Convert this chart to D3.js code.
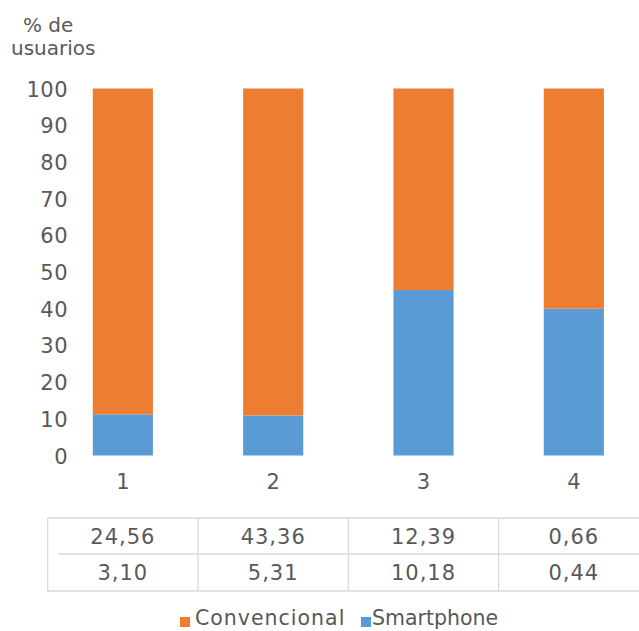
<!DOCTYPE html>
<html><head><meta charset="utf-8">
<script src="https://cdn.jsdelivr.net/npm/d3@7"></script>
<style>body{margin:0;background:#fff}svg{display:block}text{font-family:"DejaVu Sans",Verdana,sans-serif;fill:#595959}</style>
</head><body>
<svg id="c" width="639" height="631"></svg>
<script>
const categories = ["1","2","3","4"];
const convencional = [24.56, 43.36, 12.39, 0.66];
const smartphone = [3.10, 5.31, 10.18, 0.44];
const convLabels = ["24,56","43,36","12,39","0,66"];
const smartLabels = ["3,10","5,31","10,18","0,44"];
const yTicks = [0,10,20,30,40,50,60,70,80,90,100];
const seriesNames = ["Convencional","Smartphone"];
const colors = {Convencional:"#ED7D31", Smartphone:"#5B9BD5"};

const svg = d3.select("#c");
const x = d3.scaleBand().domain(categories).range([47.7, 649]).paddingInner(0.6).paddingOuter(0.3);
const y = d3.scaleLinear().domain([0,100]).range([455.5, 88.5]);

const data = categories.map((c,i)=>{
  const t = convencional[i]+smartphone[i];
  return {cat:c, Smartphone: smartphone[i]/t*100, Convencional: convencional[i]/t*100};
});
const stack = d3.stack().keys(["Smartphone","Convencional"])(data);

svg.append("g").selectAll("g").data(stack).join("g")
  .attr("fill", d=>colors[d.key])
  .selectAll("rect").data(d=>d).join("rect")
  .attr("x", d=>x(d.data.cat)).attr("width", x.bandwidth())
  .attr("y", d=>y(d[1])).attr("height", d=>y(d[0])-y(d[1]));

// y axis labels
const ya = svg.append("g").attr("transform","translate(68,0)")
  .call(d3.axisLeft(y).tickValues(yTicks).tickSize(0).tickPadding(0));
ya.select(".domain").remove();
ya.selectAll("text").attr("font-size",21).attr("fill","#595959").style("font-family","'DejaVu Sans',Verdana,sans-serif").attr("dy","0.36em").attr("letter-spacing",0.5);

// x axis labels
const xa = svg.append("g").attr("transform","translate(0,490)")
  .call(d3.axisBottom(x).tickSize(0).tickPadding(0));
xa.select(".domain").remove();
xa.selectAll("text").attr("font-size",21).attr("fill","#595959").style("font-family","'DejaVu Sans',Verdana,sans-serif").attr("dy","-0.05em").attr("y",0);

// y title
svg.append("text").attr("x",23).attr("y",32).attr("font-size",20).text("% de");
svg.append("text").attr("x",11).attr("y",55).attr("font-size",20).text("usuarios");

// data table
const step = x.step();
const left = 47.7, rowTop=518, rowMid=554, rowBot=591;
const lines = svg.append("g").attr("stroke","#d9d9d9").attr("stroke-width",1.3);
lines.append("line").attr("x1",left).attr("x2",639).attr("y1",rowTop).attr("y2",rowTop);
lines.append("line").attr("x1",58).attr("x2",639).attr("y1",rowMid).attr("y2",rowMid);
lines.append("line").attr("x1",left).attr("x2",639).attr("y1",rowBot).attr("y2",rowBot);
lines.append("line").attr("x1",left).attr("x2",left).attr("y1",rowTop).attr("y2",rowBot);
categories.slice(1).forEach(c=>{
  const xv = x(c) - x.paddingInner()*step/2;
  lines.append("line").attr("x1",xv).attr("x2",xv).attr("y1",rowTop).attr("y2",rowBot);
});
const cx = c => x(c)+x.bandwidth()/2;
svg.append("g").selectAll("text").data(categories).join("text")
  .attr("x",c=>cx(c)).attr("y",543.5).attr("text-anchor","middle").attr("font-size",21).attr("letter-spacing",1)
  .text((c,i)=>convLabels[i]);
svg.append("g").selectAll("text").data(categories).join("text")
  .attr("x",c=>cx(c)).attr("y",579.5).attr("text-anchor","middle").attr("font-size",21).attr("letter-spacing",1)
  .text((c,i)=>smartLabels[i]);

// legend
const leg = [{name:seriesNames[0], sx:180, tx:195, ls:1},{name:seriesNames[1], sx:361, tx:372, ls:0}];
leg.forEach(l=>{
  svg.append("rect").attr("x",l.sx).attr("y",617).attr("width",10).attr("height",10).attr("fill",colors[l.name]);
  svg.append("text").attr("x",l.tx).attr("y",625).attr("font-size",20.5).attr("letter-spacing",l.ls).text(l.name);
});
</script>
</body></html>
